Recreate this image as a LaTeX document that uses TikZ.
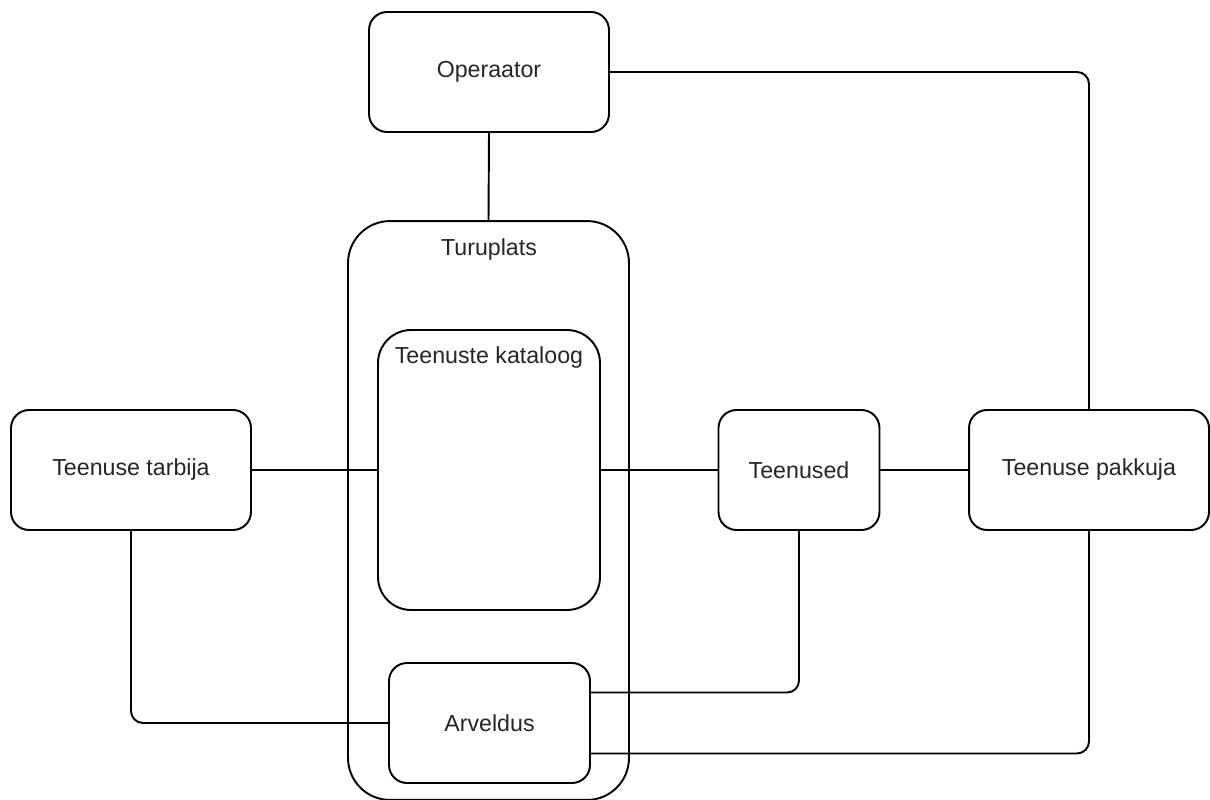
\documentclass[tikz,border=0pt]{standalone}
\usepackage{fontspec}
\setmainfont{Liberation Sans}
\usetikzlibrary{calc}
\begin{document}
\begin{tikzpicture}[x=0.02cm,y=-0.02cm,
  box/.style={draw=black, line width=1.1pt, fill=white, inner sep=0pt,
    font=\fontsize{13.2}{16}\selectfont, text=black!85, align=center},
  lbl/.style={inner sep=0pt, font=\fontsize{13.2}{16}\selectfont, text=black!85},
  link/.style={draw=black, line width=1.1pt, rounded corners=0.24cm}]
\useasboundingbox (0,0) rectangle (1210,800);

% market platform container and its catalogue
\node[box, rounded corners=0.84cm, minimum width=5.62cm, minimum height=11.58cm] (tur) at (488.5,510.5) {};
\node[lbl] (turlbl) at (489,250) {Turuplats};
\node[box, rounded corners=0.66cm, minimum width=4.44cm, minimum height=5.6cm] (kat) at (489,470) {};
\node[lbl] (katlbl) at (489,358) {Teenuste kataloog};
\node[box, rounded corners=0.36cm, minimum width=4.02cm, minimum height=2.4cm] (arv) at (489.5,723) {Arveldus};

% outer parties
\node[box, rounded corners=0.36cm, minimum width=4.8cm, minimum height=2.4cm] (op) at (489,72) {Operaator};
\node[box, rounded corners=0.36cm, minimum width=4.8cm, minimum height=2.4cm] (tar) at (131,470) {Teenuse tarbija};
\node[box, rounded corners=0.36cm, minimum width=3.22cm, minimum height=2.4cm] (ted) at (799,470) {Teenused};
\node[box, rounded corners=0.36cm, minimum width=4.8cm, minimum height=2.4cm] (pak) at (1089,470) {Teenuse pakkuja};

% connections
\draw[link] (op.south) -- (tur.north);
\draw[link] (op.east) -| (pak.north);
\draw[link] (tar.east) -- (kat.west);
\draw[link] (kat.east) -- (ted.west);
\draw[link] (ted.east) -- (pak.west);
\draw[link] (tar.south) |- (arv.west);
\draw[link] (ted.south) |- ($(arv.north east)!0.25!(arv.south east)$);
\draw[link] (pak.south) |- ($(arv.north east)!0.75!(arv.south east)$);
\end{tikzpicture}
\end{document}
